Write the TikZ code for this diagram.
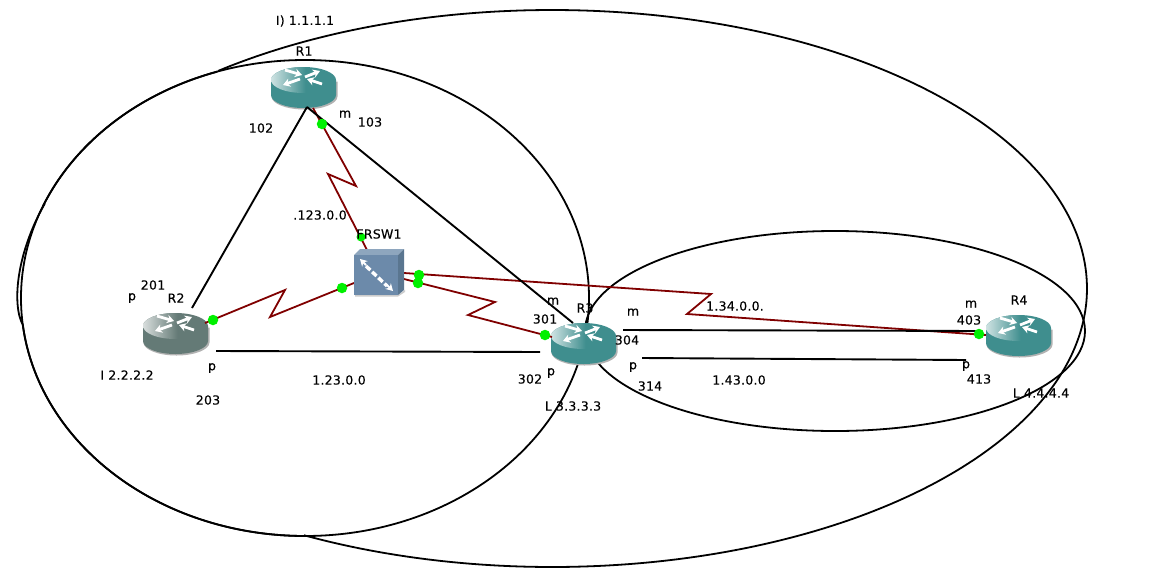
\documentclass[tikz,border=0pt]{standalone}
\usepackage{fontspec}
\setmainfont[LetterSpace=2,FakeBold=0.2]{DejaVu Sans}
\usetikzlibrary{arrows.meta}
\definecolor{rteal}{HTML}{3F8E8E}
\definecolor{rgrey}{HTML}{647A76}
\definecolor{serial}{HTML}{800000}
\definecolor{swfront}{HTML}{6C8AAA}
\definecolor{swtop}{HTML}{8EA6BE}
\definecolor{swside}{HTML}{5A7690}
\definecolor{portdot}{HTML}{00F000}
\tikzset{
  x=1pt,y=-1pt,
  lab/.style={font=\fontsize{12.5}{14}\selectfont,inner sep=0pt,text=black},
  loop/.style={draw=black,line width=1.8pt},
  eth/.style={draw=black,line width=1.9pt},
  ser/.style={draw=serial,line width=1.8pt,line join=miter},
  dot/.style={circle,fill=portdot,draw=none,minimum size=10.5pt,inner sep=0pt},
  rbox/.style={rectangle,minimum width=65pt,minimum height=42pt,inner sep=0pt,draw=none},
  rarrow/.style={draw=white,line width=2.8pt,-{Stealth[length=7pt,width=8.5pt]}},
}
% name, cx, top y, body colour
\newcommand{\routerdraw}[4]{%
  \begin{scope}[shift={(#2,#3)}]
    \fill[black!30] (-32,14.5) -- (-32,29.5) arc[start angle=180,end angle=0,x radius=33,y radius=13] -- (34,14.5) -- cycle;
    \fill[#4] (-32.5,13) -- (-32.5,28) arc[start angle=180,end angle=0,x radius=32.5,y radius=13] -- (32.5,13) -- cycle;
    \fill[#4] (0,13) ellipse[x radius=32.5,y radius=13];
    \begin{scope}
      \clip (0,13) ellipse[x radius=32.5,y radius=13];
      \shade[left color=#4!25!white,right color=#4] (-32.5,0) rectangle (2,26);
    \end{scope}
    \draw[rarrow] (-18.5,3) -- (-1.5,8);
    \draw[rarrow] (1.5,10) -- (16.5,4);
    \draw[rarrow] (-3.5,12) -- (-20.5,18);
    \draw[rarrow] (18.5,17) -- (3.5,12);
    \node[rbox] (#1) at (0,21) {};
  \end{scope}}
\begin{document}
\begin{tikzpicture}
\useasboundingbox (0,0) rectangle (1172,573);
\fill[white] (0,0) rectangle (1172,573);
% loopback areas
\draw[loop] plot[domain=-128.6:117.5,samples=160,smooth] ({552+535*cos(\x)},{288.5+278.5*sin(\x)})
  -- plot[domain=90:173.5,samples=50,smooth] ({305+284*cos(\x)},{298+238*sin(\x)})
  .. controls (12,305) and (16,255) .. (44,205)
  -- plot[domain=203:252,samples=40,smooth] ({305+284*cos(\x)},{298+238*sin(\x)});
\draw[loop] (305,298) ellipse[x radius=284,y radius=238];
\draw[loop] (835,331) ellipse[x radius=250,y radius=100];
% link end points
\coordinate (r1a) at (307,107);
\coordinate (r2a) at (192,308);
\coordinate (r3a) at (573,323);
\coordinate (r2b) at (216,351);
\coordinate (r3b) at (540,352);
\coordinate (r3c) at (623,330);
\coordinate (r4c) at (979,331);
\coordinate (r3d) at (642,358);
\coordinate (r4d) at (966,360);
\coordinate (r1s) at (313,108);
\coordinate (r2s) at (205,323);
\coordinate (r3s) at (552,337);
\coordinate (r4s) at (986,335);
\coordinate (swa) at (367,250);
\coordinate (swb) at (354,283);
\coordinate (swc) at (404,279);
\coordinate (swd) at (404,273);
% routers
\routerdraw{R1}{303.5}{67}{rteal}
\routerdraw{R2}{175.5}{313}{rgrey}
\routerdraw{R3}{583.5}{323}{rteal}
\routerdraw{R4}{1018.5}{315}{rteal}
% serial links
\draw[ser] (r1s) -- (356,186) -- (328,174) -- (swa);
\draw[ser] (r2s) -- (285,290) -- (270,317) -- (swb);
\draw[ser] (swc) -- (495,302) -- (468,315) -- (r3s);
\draw[ser] (swd) -- (711,294) -- (687,314) -- (r4s);
% ethernet links
\draw[eth] (r1a) -- (r2a);
\draw[eth] (r1a) -- (r3a);
\draw[eth] (r2b) -- (r3b);
\draw[eth] (r3c) -- (r4c);
\draw[eth] (r3d) -- (r4d);
% frame relay switch
\fill[black!20] (355,295) -- (398,295) -- (405,290) -- (405,292) -- (398,296.5) -- (355,296.5) -- cycle;
\fill[swtop] (354,255) -- (360,249) -- (404,249) -- (398,255) -- cycle;
\fill[swside] (398,255) -- (404,249) -- (404,290) -- (398,295) -- cycle;
\node[fill=swfront,minimum width=44pt,minimum height=40pt,inner sep=0pt,anchor=north west] (SW) at (354,255) {};
\draw[white,line width=3.4pt,dash pattern=on 6pt off 2.5pt] (366,266) -- (387,286);
\draw[white,line width=2pt,-{Stealth[length=7pt,width=8pt]}] (386,284) -- (393,291);
\draw[white,line width=2pt,-{Stealth[length=7pt,width=8pt]}] (366,265) -- (360,259);
% port markers
\node[dot] (d1) at (322,124) {};
\node[dot,minimum size=9pt] (d2) at (361,237) {};
\node[dot] (d3) at (213,320) {};
\node[dot] (d4) at (342,288) {};
\node[dot] (d5) at (419,275) {};
\node[dot] (d6) at (418,283) {};
\node[dot] (d7) at (545,335) {};
\node[dot] (d8) at (979,334) {};
% labels
\node[lab] (t1) at (305,21) {I) 1.1.1.1};
\node[lab] (t2) at (304,51) {R1};
\node[lab] (t3) at (261,128) {102};
\node[lab] (t4) at (345,114) {m};
\node[lab] (t5) at (370,122) {103};
\node[lab] (t6) at (320,215) {.123.0.0};
\node[lab] (t7) at (379,234) {FRSW1};
\node[lab] (t8) at (153,285) {201};
\node[lab] (t9) at (132,298) {p};
\node[lab] (t10) at (176,298) {R2};
\node[lab] (t11) at (212,368) {p};
\node[lab] (t12) at (127,375) {I 2.2.2.2};
\node[lab] (t13) at (208,400) {203};
\node[lab] (t14) at (339,380) {1.23.0.0};
\node[lab] (t15) at (553,301) {m};
\node[lab] (t16) at (545,319) {301};
\node[lab] (t17) at (585,308) {R3};
\node[lab] (t18) at (633,312) {m};
\node[lab] (t19) at (627,340) {304};
\node[lab] (t20) at (633,367) {p};
\node[lab] (t21) at (650,386) {314};
\node[lab] (t22) at (530,379) {302};
\node[lab] (t23) at (551,373) {p};
\node[lab] (t24) at (573,406) {L 3.3.3.3};
\node[lab] (t25) at (739,380) {1.43.0.0};
\node[lab] (t26) at (735,306) {1.34.0.0.};
\node[lab] (t27) at (971,304) {m};
\node[lab] (t28) at (969,320) {403};
\node[lab] (t29) at (1019,300) {R4};
\node[lab] (t30) at (966,366) {p};
\node[lab] (t31) at (979,379) {413};
\node[lab] (t32) at (1041,393) {L 4.4.4.4};
\end{tikzpicture}
\end{document}
